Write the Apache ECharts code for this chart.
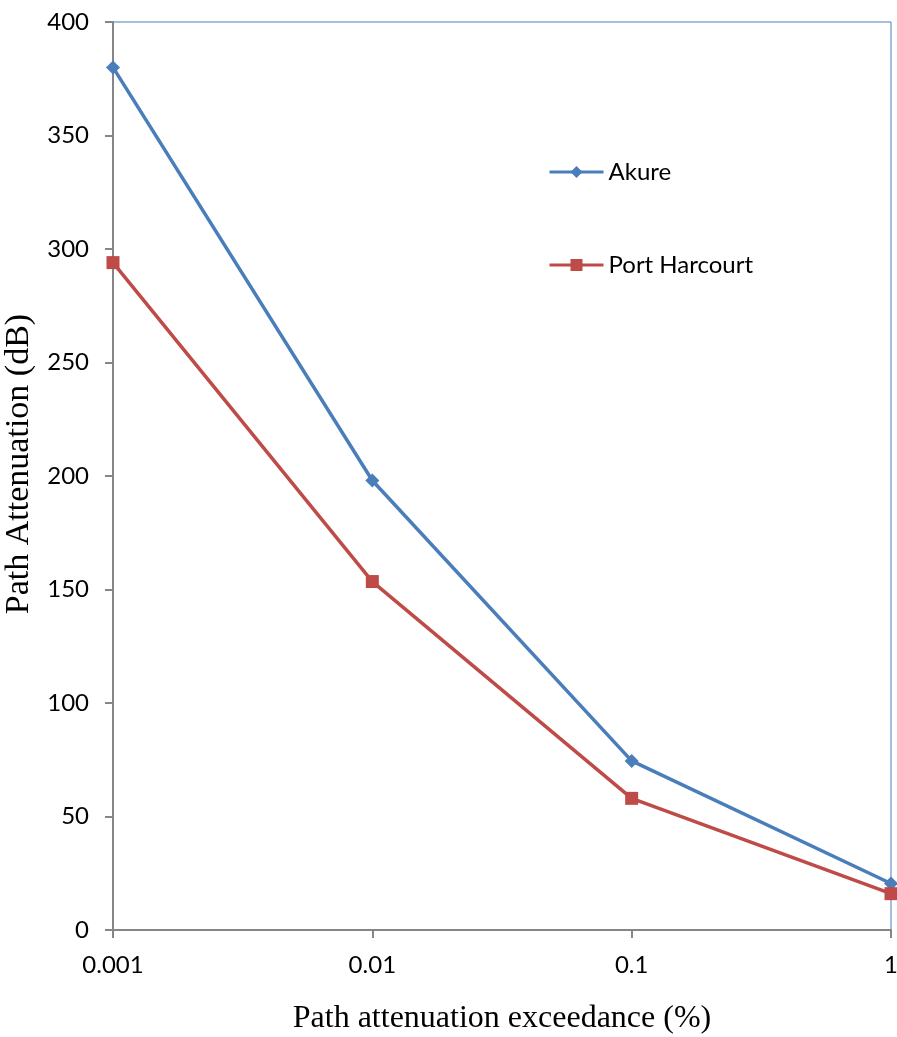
<!DOCTYPE html>
<html>
<head>
<meta charset="utf-8">
<style>
  html, body { margin: 0; padding: 0; background: #ffffff; }
  #chart { width: 897px; height: 1037px; }
</style>
<script src="https://cdn.jsdelivr.net/npm/echarts@6/dist/echarts.min.js"></script>
</head>
<body>
<div id="chart"></div>
<script>
// Exceedance percentages (log scale) and path attenuation in dB
const exceedance = [0.001, 0.01, 0.1, 1];
const akure = [380, 198, 74.5, 20.5];
const portHarcourt = [294, 153.5, 58, 16];
const yTicks = [0, 50, 100, 150, 200, 250, 300, 350, 400];

const BLUE = '#4a7ebb';
const RED = '#be4b48';
const AXIS_GRAY = '#868686';
const tickFont = 'Lato, "Open Sans", sans-serif';
const titleFont = '"Liberation Serif", "Times New Roman", serif';

const pairs = vals => exceedance.map((x, i) => [x, vals[i]]);

const legendText = { fontFamily: tickFont, fontSize: 24, color: '#000' };

const chart = echarts.init(document.getElementById('chart'));
chart.setOption({
  animation: false,
  backgroundColor: '#ffffff',
  grid: {
    left: 113, right: 6, top: 22, bottom: 107,
    outerBoundsMode: 'none', containLabel: false,
    show: true, borderColor: BLUE, borderWidth: 1, backgroundColor: 'transparent'
  },
  legend: [
    {
      data: ['Akure'], left: 548, top: 160, padding: 0, itemWidth: 54, itemHeight: 15,
      lineStyle: { width: 3 }, textStyle: legendText
    },
    {
      data: ['Port Harcourt'], left: 548, top: 253, padding: 0, itemWidth: 54, itemHeight: 15,
      lineStyle: { width: 3 }, textStyle: legendText
    }
  ],
  xAxis: {
    type: 'log', logBase: 10, min: exceedance[0], max: exceedance[exceedance.length - 1],
    name: 'Path attenuation exceedance (%)', nameLocation: 'middle', nameGap: 73,
    nameTextStyle: { fontFamily: titleFont, fontSize: 32, color: '#000' },
    axisLine: { show: true, onZero: false, lineStyle: { color: AXIS_GRAY, width: 2 } },
    axisTick: { show: true, inside: false, length: 8, lineStyle: { color: AXIS_GRAY, width: 2 } },
    minorTick: { show: false },
    splitLine: { show: false },
    axisLabel: {
      fontFamily: tickFont, fontSize: 24, color: '#000', margin: 23,
      formatter: v => {
        const m = exceedance.find(e => Math.abs(Math.log10(e) - Math.log10(v)) < 1e-6);
        return m === undefined ? '' : String(m);
      }
    }
  },
  yAxis: {
    type: 'value', min: yTicks[0], max: yTicks[yTicks.length - 1], interval: 50,
    name: 'Path Attenuation (dB)', nameLocation: 'middle', nameGap: 64,
    nameTextStyle: { fontFamily: titleFont, fontSize: 34, color: '#000', padding: [0, 0, 0, 24] },
    axisLine: { show: true, lineStyle: { color: AXIS_GRAY, width: 2 } },
    axisTick: { show: true, inside: false, length: 8, lineStyle: { color: AXIS_GRAY, width: 2 } },
    splitLine: { show: false },
    axisLabel: { fontFamily: tickFont, fontSize: 24, color: '#000', margin: 24 }
  },
  series: [
    {
      name: 'Akure', type: 'line', data: pairs(akure), clip: false,
      symbol: 'diamond', symbolSize: 14, showAllSymbol: true,
      lineStyle: { color: BLUE, width: 3.5 }, itemStyle: { color: BLUE }
    },
    {
      name: 'Port Harcourt', type: 'line', data: pairs(portHarcourt), clip: false,
      symbol: 'rect', symbolSize: 13, showAllSymbol: true,
      lineStyle: { color: RED, width: 3.5 }, itemStyle: { color: RED }
    }
  ]
});
</script>
</body>
</html>
